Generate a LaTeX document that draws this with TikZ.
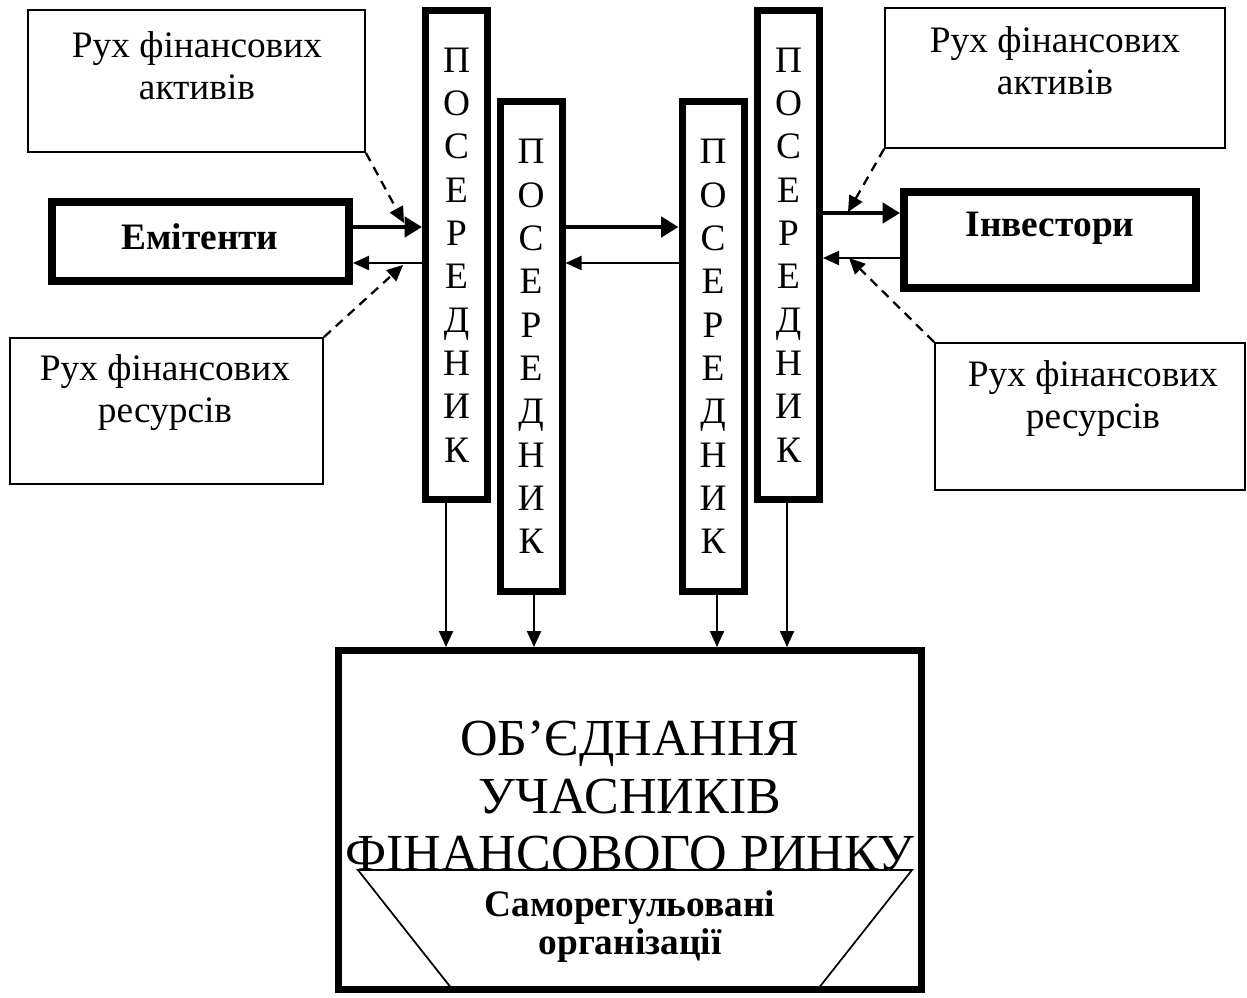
\documentclass[tikz,border=0pt]{standalone}
\usepackage{fontspec}
\setmainfont{Liberation Serif}
\usetikzlibrary{arrows.meta,calc}
\begin{document}
\begin{tikzpicture}[x=0.75pt,y=-0.75pt,
 thinbox/.style={draw,line width=1.4pt,inner sep=0},
 thickbox/.style={draw,line width=6pt,inner sep=0},
 boldlbl/.style={font=\fontsize{28}{32}\selectfont\bfseries,inner sep=0},
 midbox/.style={draw,line width=5.25pt,inner sep=0,minimum width=46.5pt,minimum height=367pt,
   font=\fontsize{28}{32.5}\selectfont,align=center},
 thickarr/.style={line width=3.6pt,-{Triangle[length=13pt,width=15pt]}},
 thinarr/.style={line width=1.6pt,-{Triangle[length=12pt,width=10.5pt]}},
 dasharr/.style={line width=1.7pt,dash pattern=on 7pt off 5pt,-{Triangle[length=12pt,width=11pt]}},
 lbl/.style={font=\fontsize{28}{31.5}\selectfont,align=center,inner sep=0}
]
\useasboundingbox (0,0) rectangle (1247,997);

% side boxes
\node[thinbox,minimum width=252.75pt,minimum height=106.5pt] (tl) at (196.5,81) {};
\node[lbl] (tlt) at (197,66) {Рух фінансових\\активів};
\node[thinbox,minimum width=234.75pt,minimum height=109.5pt] (lb) at (166.5,411) {};
\node[lbl] (lbt) at (165,393) {Рух фінансових\\ресурсів};
\node[thinbox,minimum width=255pt,minimum height=105pt] (tr) at (1055,78) {};
\node[lbl] (trt) at (1055,61) {Рух фінансових\\активів};
\node[thinbox,minimum width=232.5pt,minimum height=110.25pt] (br) at (1090,416.5) {};
\node[lbl] (brt) at (1093,399) {Рух фінансових\\ресурсів};

% main participants
\node[thickbox,minimum width=222.75pt,minimum height=59.25pt] (emit) at (200.5,241.5) {};
\node[boldlbl] (emitt) at (200,237) {Емітенти};
\node[thickbox,minimum width=219pt,minimum height=72pt] (inv) at (1050,240) {};
\node[boldlbl] (invt) at (1050,228) {Інвестори};

% intermediaries
\node[midbox] (int1) at (456.5,255) {П\\О\\С\\Е\\Р\\Е\\Д\\Н\\И\\К};
\node[midbox] (int2) at (531,346.5) {П\\О\\С\\Е\\Р\\Е\\Д\\Н\\И\\К};
\node[midbox] (int3) at (713,346.5) {П\\О\\С\\Е\\Р\\Е\\Д\\Н\\И\\К};
\node[midbox] (int4) at (788.5,255) {П\\О\\С\\Е\\Р\\Е\\Д\\Н\\И\\К};

% association
\node[draw,line width=5.25pt,minimum width=437.25pt,minimum height=254.25pt,inner sep=0] (big) at (630,820) {};
\node[font=\fontsize{39}{43}\selectfont,align=center,inner sep=0] (bigt) at (630,796)
  {ОБ’ЄДНАННЯ\\УЧАСНИКІВ\\ФІНАНСОВОГО РИНКУ};
\draw[line width=1.3pt] (358,870) -- (912,870) -- (818,989) -- (452,989) -- cycle;
\node[font=\fontsize{28}{28.5}\selectfont\bfseries,align=center,inner sep=0] (sro) at (630,927)
  {Саморегульовані\\організації};

% flows
\draw[thickarr] (emit.east |- 0,227) -- (int1.west |- 0,227);
\draw[thinarr] (int1.west |- 0,263) -- (emit.east |- 0,263);
\draw[thickarr] (int2.east |- 0,227) -- (int3.west |- 0,227);
\draw[thinarr] (int3.west |- 0,263) -- (int2.east |- 0,263);
\draw[thickarr] (int4.east |- 0,213) -- (inv.west |- 0,213);
\draw[thinarr] (inv.west |- 0,258) -- (int4.east |- 0,258);

\coordinate (d1) at (404,223);
\coordinate (d2) at (403,265);
\coordinate (d3) at (848,212);
\coordinate (d4) at (849,258);
\draw[dasharr] (tl.south east) -- (d1);
\draw[dasharr] (lb.north east) -- (d2);
\draw[dasharr] (tr.south west) -- (d3);
\draw[dasharr] (br.north west) -- (d4);

\draw[thinarr] (int1.south -| 446,0) -- (big.north -| 446,0);
\draw[thinarr] (int2.south -| 534,0) -- (big.north -| 534,0);
\draw[thinarr] (int3.south -| 717,0) -- (big.north -| 717,0);
\draw[thinarr] (int4.south -| 787,0) -- (big.north -| 787,0);
\end{tikzpicture}
\end{document}
